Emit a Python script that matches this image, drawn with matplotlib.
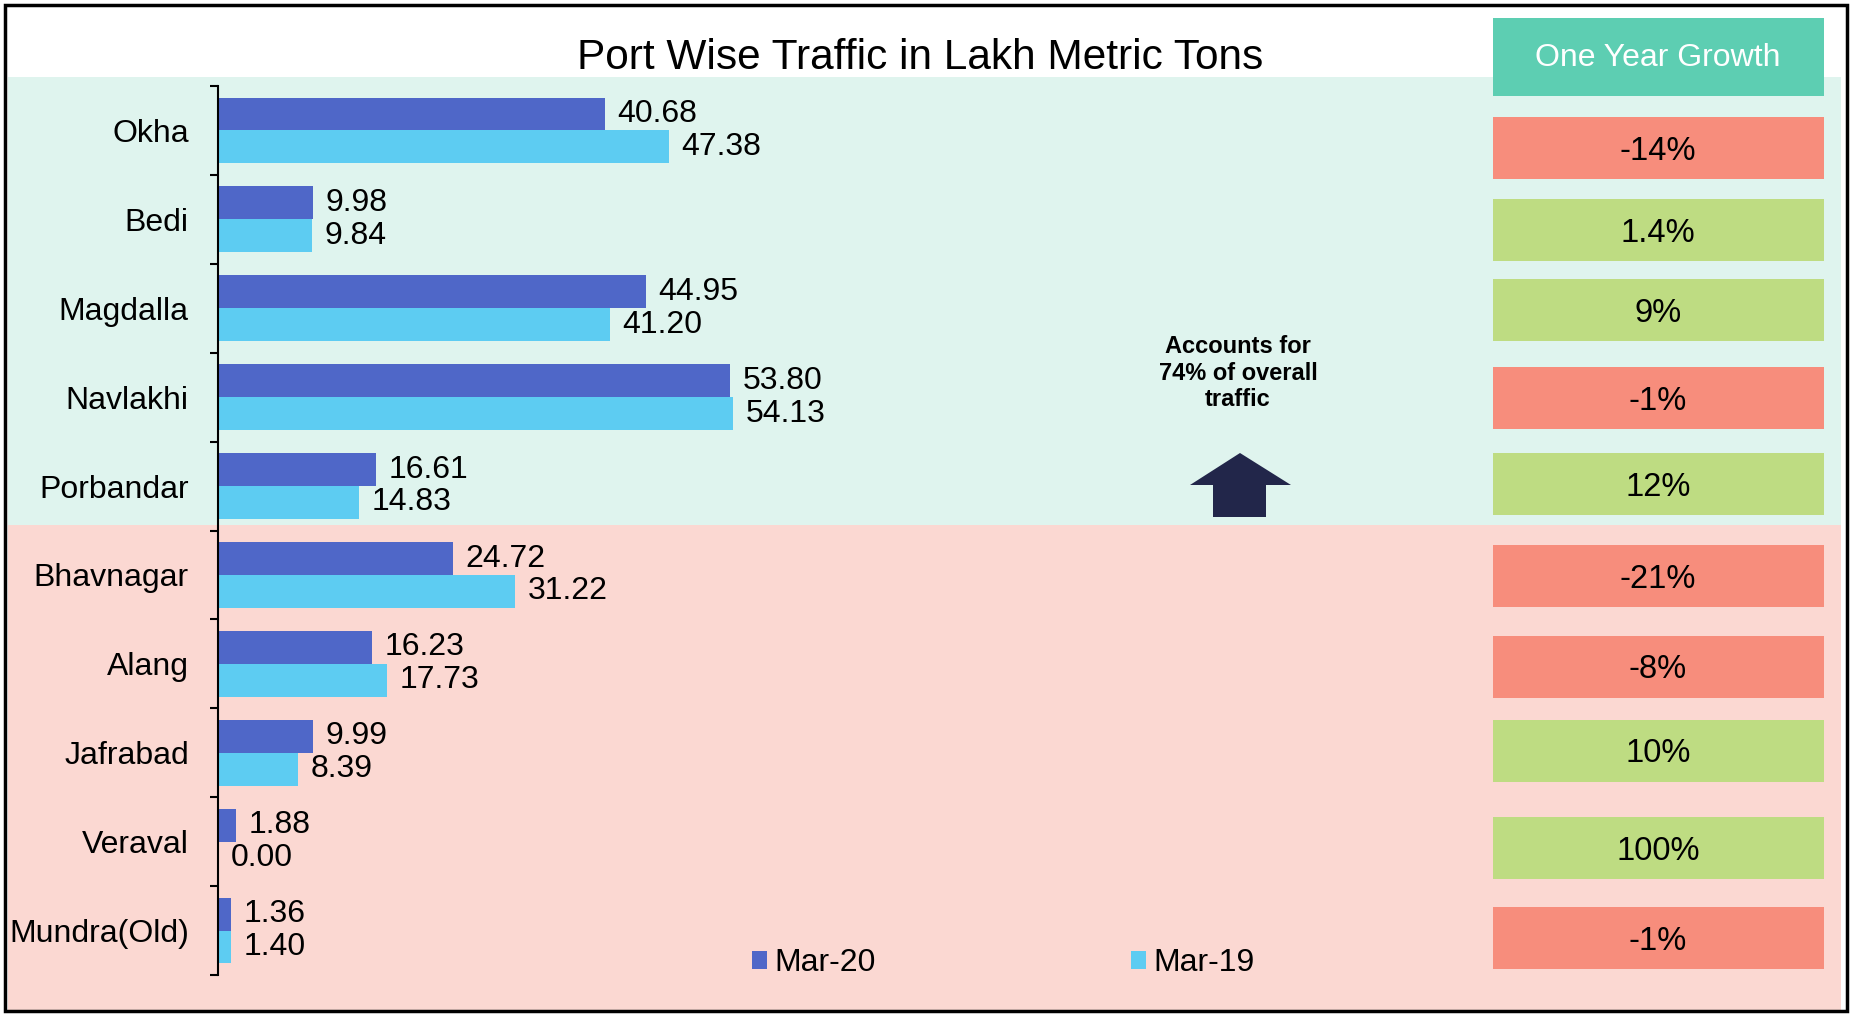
import numpy as np
import matplotlib.pyplot as plt
from matplotlib.patches import Rectangle, Polygon

plt.rcParams['font.family'] = ['Liberation Sans', 'DejaVu Sans']

# data
ports = ['Okha', 'Bedi', 'Magdalla', 'Navlakhi', 'Porbandar',
         'Bhavnagar', 'Alang', 'Jafrabad', 'Veraval', 'Mundra(Old)']
mar20 = [40.68, 9.98, 44.95, 53.80, 16.61, 24.72, 16.23, 9.99, 1.88, 1.36]
mar19 = [47.38, 9.84, 41.20, 54.13, 14.83, 31.22, 17.73, 8.39, 0.00, 1.40]
growth = ['-14%', '1.4%', '9%', '-1%', '12%', '-21%', '-8%', '10%', '100%', '-1%']

title = 'Port Wise Traffic in Lakh Metric Tons'
note = 'Accounts for\n74% of overall\ntraffic'

# layout of the growth column (pixel tops)
box_top = [117, 199, 279, 367, 453, 545, 636, 720, 817, 907]

W, H = 1850, 1014
fig = plt.figure(figsize=(W / 100, H / 100), dpi=100)

# background layer in pixel coords
bg = fig.add_axes([0, 0, 1, 1], zorder=0)
bg.set_xlim(0, W)
bg.set_ylim(H, 0)
bg.axis('off')

bg.add_patch(Rectangle((8, 77), 1833, 448, color='#DFF4EE', lw=0))
bg.add_patch(Rectangle((8, 525), 1833, 486, color='#FBD8D2', lw=0))
bg.add_patch(Rectangle((5, 5), 1842, 1006, fill=False, ec='black', lw=2.5))

bg.text(920, 69, title, ha='center', va='baseline', fontsize=30.5)

# growth column
bg.add_patch(Rectangle((1493, 18), 331, 78, color='#5DCEB2', lw=0))
bg.text(1658, 58, 'One Year Growth', ha='center', va='center', fontsize=23, color='white')
for top, g in zip(box_top, growth):
    col = '#F78D7C' if g.startswith('-') else '#BEDC82'
    bg.add_patch(Rectangle((1493, top), 331, 62, color=col, lw=0))
    bg.text(1658, top + 34, g, ha='center', va='center', fontsize=23.5)

# note + arrow
bg.text(1238, 373, note, ha='center', va='center', fontsize=17,
        fontweight='bold', linespacing=1.2)
arrow = [(1240, 453), (1291, 485), (1266, 485), (1266, 517),
         (1213, 517), (1213, 485), (1190, 485)]
bg.add_patch(Polygon(arrow, closed=True, color='#22264A', lw=0))

# bars
ax = fig.add_axes([218 / W, 1 - 975 / H, 1232 / W, 889 / H], zorder=1)
ax.patch.set_alpha(0)

y = np.arange(len(ports))
h = 0.37
b20 = ax.barh(y - h / 2, mar20, height=h, color='#4F67C8', label='Mar-20')
b19 = ax.barh(y + h / 2, mar19, height=h, color='#5DCCF2', label='Mar-19')
ax.bar_label(b20, labels=[f'{v:.2f}' for v in mar20], padding=9, fontsize=23)
ax.bar_label(b19, labels=[f'{v:.2f}' for v in mar19], padding=9, fontsize=23)

ax.set_xlim(0, 129.5)
ax.set_ylim(len(ports) - 0.5, -0.5)
ax.set_yticks(y, ports)
ax.set_yticks(np.arange(len(ports) + 1) - 0.5, minor=True)
ax.tick_params(axis='y', which='major', length=0, pad=21, labelsize=23)
ax.tick_params(axis='y', which='minor', length=6, width=1.5, direction='out')
ax.set_xticks([])
for s in ['top', 'right', 'bottom']:
    ax.spines[s].set_visible(False)
ax.spines['left'].set_linewidth(1.5)

fig.legend(handles=[b20, b19], loc='center', bbox_to_anchor=(1003 / W, 1 - 963 / H),
           ncol=2, frameon=False, fontsize=23, handlelength=0.47, handleheight=0.5,
           handletextpad=0.22, columnspacing=8.0, borderpad=0)

fig.savefig('out.png', dpi=100)
